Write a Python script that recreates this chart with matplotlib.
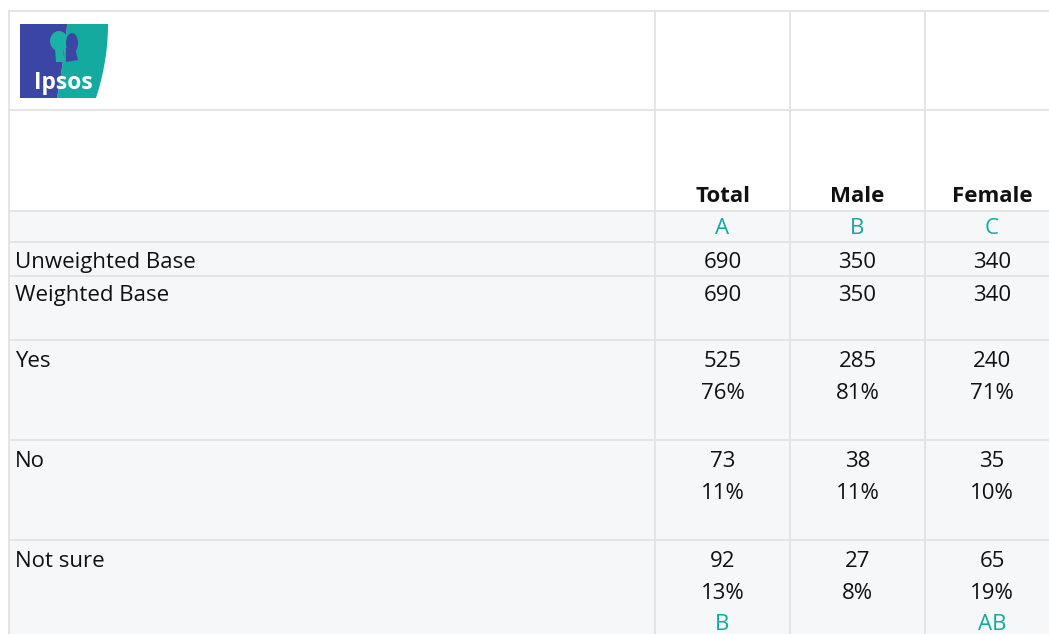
import matplotlib
matplotlib.use("Agg")
import matplotlib.pyplot as plt
from matplotlib.patches import Rectangle, Polygon, Ellipse
import numpy as np

plt.rcParams['font.family'] = ['Open Sans', 'DejaVu Sans']

columns = ["Total", "Male", "Female"]
col_letters = ["A", "B", "C"]
unweighted_base = [690, 350, 340]
weighted_base = [690, 350, 340]
row_labels = ["Yes", "No", "Not sure"]
counts = [[525, 285, 240], [73, 38, 35], [92, 27, 65]]
percents = [["76%", "81%", "71%"], ["11%", "11%", "10%"], ["13%", "8%", "19%"]]
sig_letters = [["", "", ""], ["", "", ""], ["B", "", "AB"]]

W, H = 1049, 634
fig = plt.figure(figsize=(W / 100, H / 100), dpi=100)
ax = fig.add_axes([0, 0, 1, 1])
ax.set_xlim(0, W)
ax.set_ylim(H, 0)
ax.axis("off")

grid = "#e4e4e4"
bg = "#f6f7f9"
teal = "#14a89e"
txt = "#111111"

# column edges (left, right)
col_edges = [(10, 654), (656, 789), (791, 924), (926, 1060)]
# row edges (top, bottom)
rows = {
    "logo": (12, 109),
    "head": (111, 210),
    "letters": (212, 241),
    "unw": (243, 275),
    "w": (277, 339),
    "r0": (341, 439),
    "r1": (441, 539),
    "r2": (541, 700),
}

# outer grid background
ax.add_patch(Rectangle((8, 10), W, H, facecolor=grid, edgecolor="none"))
for key, (t, b) in rows.items():
    fc = "white" if key in ("logo", "head") else bg
    for (l, r) in col_edges:
        ax.add_patch(Rectangle((l, t), r - l, b - t, facecolor=fc, edgecolor="none"))

# logo
blue = "#3b45a3"
tl = "#14aa9f"
lx0, lx1, ly0, ly1 = 20, 108, 24, 98
yy = np.linspace(ly0, ly1, 40)
f = (yy - ly0) / (ly1 - ly0)
xr = lx1 - 12 * f ** 2
xl = 67 - 10 * f ** 1.3
teal_pts = list(zip(xl, yy)) + list(zip(xr[::-1], yy[::-1]))
blue_pts = [(lx0, ly0)] + list(zip(xl, yy)) + [(lx0, ly1)]
ax.add_patch(Polygon(teal_pts, closed=True, facecolor=tl, edgecolor="none"))
ax.add_patch(Polygon(blue_pts, closed=True, facecolor=blue, edgecolor="none"))
# stylised head silhouette
ax.add_patch(Ellipse((59, 41), 18, 20, facecolor="#1bb1a6", edgecolor="none"))
ax.add_patch(Polygon([(55, 48), (64, 48), (63, 62), (56, 62)], closed=True,
                     facecolor="#1bb1a6", edgecolor="none"))
ax.add_patch(Ellipse((72, 43), 12, 20, facecolor=blue, edgecolor="none"))
ax.add_patch(Polygon([(66, 48), (75, 48), (78, 60), (66, 62)], closed=True,
                     facecolor=blue, edgecolor="none"))
ax.text(63, 89, "Ipsos", color="white", fontsize=16.5, fontweight="bold",
        ha="center", va="baseline")

fs = 16
centers = [(l + r) / 2 for (l, r) in col_edges[1:]]
centers[2] = 992

for c, name in zip(centers, columns):
    ax.text(c, 202, name, ha="center", va="baseline", fontsize=fs, fontweight="bold", color=txt)
for c, letter in zip(centers, col_letters):
    ax.text(c, 234, letter, ha="center", va="baseline", fontsize=fs, color=teal)

ax.text(15, 268, "Unweighted Base", ha="left", va="baseline", fontsize=fs, color=txt)
ax.text(15, 301, "Weighted Base", ha="left", va="baseline", fontsize=fs, color=txt)
for c, v in zip(centers, unweighted_base):
    ax.text(c, 268, str(v), ha="center", va="baseline", fontsize=fs, color=txt)
for c, v in zip(centers, weighted_base):
    ax.text(c, 301, str(v), ha="center", va="baseline", fontsize=fs, color=txt)

for i, lab in enumerate(row_labels):
    top = rows["r%d" % i][0]
    ax.text(15, top + 26, lab, ha="left", va="baseline", fontsize=fs, color=txt)
    for j, c in enumerate(centers):
        ax.text(c, top + 26, str(counts[i][j]), ha="center", va="baseline", fontsize=fs, color=txt)
        ax.text(c, top + 58, percents[i][j], ha="center", va="baseline", fontsize=fs, color=txt)
        if sig_letters[i][j]:
            ax.text(c, top + 89, sig_letters[i][j], ha="center", va="baseline", fontsize=fs, color=teal)

fig.savefig("out.png", dpi=100, facecolor="white")
